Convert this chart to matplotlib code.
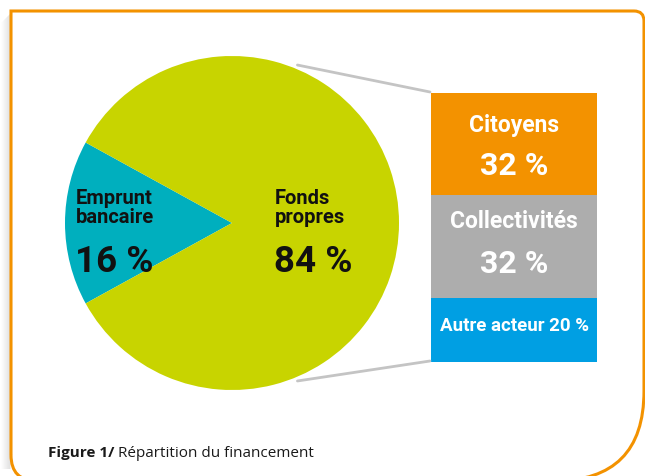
import numpy as np
import matplotlib
matplotlib.use("Agg")
import matplotlib.pyplot as plt
from matplotlib.path import Path
from matplotlib.patches import PathPatch

# financing split
pie_labels = ["Emprunt\nbancaire", "Fonds\npropres"]
pie_values = [16, 84]
pie_colors = ["#00afbe", "#c8d400"]

# breakdown of equity
bar_labels = ["Citoyens", "Collectivités", "Autre acteur"]
bar_values = [32, 32, 20]
bar_colors = ["#f39200", "#adadad", "#009fe3"]

caption_bold = "Figure 1/"
caption_text = "Répartition du financement"

cond = ["Roboto", "DejaVu Sans"]
W, H = 645, 477

fig = plt.figure(figsize=(W / 100, H / 100), dpi=100)
bg = fig.add_axes([0, 0, 1, 1])
bg.set_xlim(0, W)
bg.set_ylim(H, 0)
bg.axis("off")

# frame with orange border and a soft shadow on the left
for k in range(1, 10):
    bg.plot([11 - k, 11 - k], [14 + k, 470], color="#000000", alpha=0.07 * (10 - k) / 9, lw=1.2,
            solid_capstyle="butt", zorder=1)
L, T, R, B = 11, 12, 644, 482
rtr, rbr, rbl = 10, 90, 26
verts = [(L, B - rbl), (L, T), (R - rtr, T), (R, T), (R, T + rtr), (R, B - rbr), (R, B), (R - rbr, B),
         (L + rbl, B), (L, B), (L, B - rbl)]
codes = [Path.MOVETO, Path.LINETO, Path.LINETO, Path.CURVE3, Path.CURVE3, Path.LINETO, Path.CURVE3, Path.CURVE3,
         Path.LINETO, Path.CURVE3, Path.CURVE3]
bg.add_patch(PathPatch(Path(verts, codes), facecolor="white", edgecolor="#f39200", lw=2.2, zorder=2))

# pie
cx, cy, r = 232, 224, 167
pax = fig.add_axes([(cx - r) / W, (H - cy - r) / H, 2 * r / W, 2 * r / H])
half = pie_values[0] / sum(pie_values) * 180
pax.pie(pie_values, colors=pie_colors, startangle=180 - half, counterclock=True, radius=1,
        wedgeprops=dict(linewidth=0))
pax.set_xlim(-1, 1)
pax.set_ylim(-1, 1)
pax.axis("off")

# stacked bar
bx, by, bw, bh = 431, 94, 166, 269
bax = fig.add_axes([bx / W, (H - by - bh) / H, bw / W, bh / H])
bottoms = np.concatenate([[0], np.cumsum(bar_values)[:-1]])
bax.bar(0, bar_values, bottom=bottoms, width=1, color=bar_colors, linewidth=0)
bax.set_xlim(-0.5, 0.5)
bax.set_ylim(sum(bar_values), 0)
bax.axis("off")

# overlay for lines and text
top = fig.add_axes([0, 0, 1, 1])
top.set_xlim(0, W)
top.set_ylim(H, 0)
top.axis("off")
top.patch.set_alpha(0)

# leader lines from the pie to the bar
ang = np.deg2rad(67.5)
for sgn, yend in [(-1, by - 1), (1, by + bh - 1)]:
    top.plot([cx + 171 * np.cos(ang), bx - 1], [cy + sgn * 171 * np.sin(ang), yend],
             color="#c4c4c4", lw=2, solid_capstyle="round")

# pie labels
for lbl, val, x in zip(pie_labels, pie_values, [76, 275]):
    top.text(x, 223, lbl, family=cond, weight="bold", fontsize=14.5, va="baseline", ha="left",
             linespacing=1.0, color="#111111")
    top.text(x - 1, 272, f"{val} %", family=cond, weight="bold", fontsize=26.5, va="baseline", ha="left",
             color="#111111")

# bar labels
bc = bx + bw / 2
top.text(bc, 132, bar_labels[0], family=cond, weight="bold", fontsize=16.5, color="white", ha="center",
         va="baseline")
top.text(bc, 175, f"{bar_values[0]} %", family=cond, weight="bold", fontsize=23, color="white", ha="center",
         va="baseline")
top.text(bc, 228, bar_labels[1], family=cond, weight="bold", fontsize=16.5, color="white", ha="center",
         va="baseline")
top.text(bc, 273, f"{bar_values[1]} %", family=cond, weight="bold", fontsize=23, color="white", ha="center",
         va="baseline")
top.text(bc, 331, f"{bar_labels[2]} {bar_values[2]} %", family=cond, weight="bold", fontsize=13.5,
         color="white", ha="center", va="baseline")

# caption: bold prefix followed by the title
cap_font = ["Open Sans", "DejaVu Sans"]
t1 = top.text(48, 457, caption_bold, family=cap_font, weight="bold", fontsize=11, color="#1a1a1a",
              va="baseline")
fig.canvas.draw()
x2 = t1.get_window_extent().x1 + 4
top.text(x2, 457, caption_text, family=cap_font, fontsize=11, color="#1a1a1a", va="baseline")

fig.savefig("out.png", dpi=100)
